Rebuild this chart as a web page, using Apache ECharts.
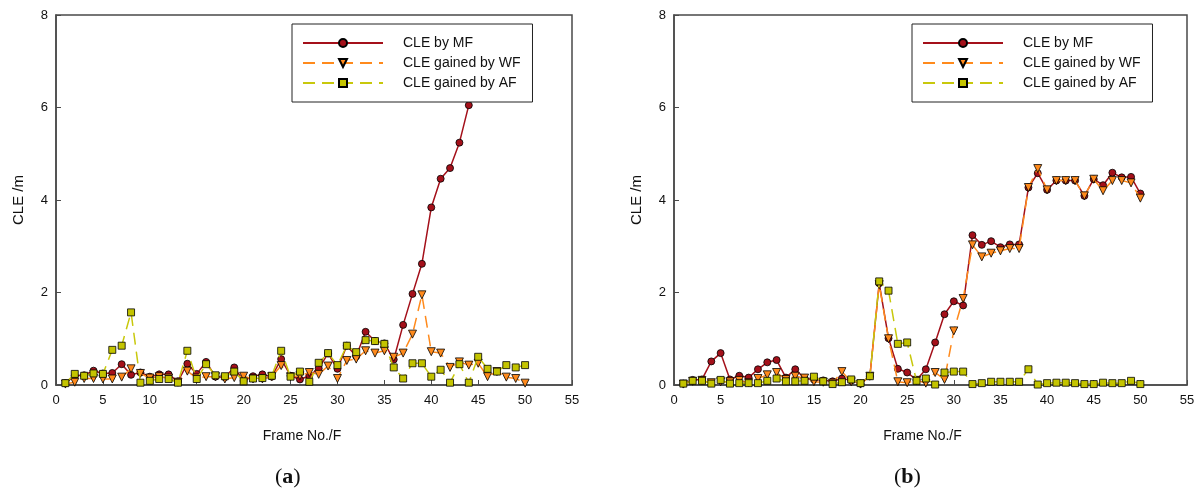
<!DOCTYPE html>
<html>
<head>
<meta charset="utf-8">
<script src="https://cdn.jsdelivr.net/npm/echarts@6/dist/echarts.min.js"></script>
<style>
  html, body { margin: 0; padding: 0; background: #fff; }
  #chart { width: 1200px; height: 497px; }
</style>
</head>
<body>
<div id="chart"></div>
<script>
// Frame numbers shared by both panels
const frames = [1,2,3,4,5,6,7,8,9,10,11,12,13,14,15,16,17,18,19,20,
                21,22,23,24,25,26,27,28,29,30,31,32,33,34,35,36,37,38,39,40,
                41,42,43,44,45,46,47,48,49,50];

// Panel (a): CLE per frame (m)
const mfA = [0.04,0.20,0.21,0.31,0.25,0.26,0.45,0.22,0.27,0.18,0.23,0.23,0.08,0.46,0.24,0.50,0.18,0.17,0.38,0.09,
             0.19,0.23,0.18,0.56,0.20,0.12,0.20,0.36,0.68,0.35,0.85,0.62,1.15,0.95,0.90,0.55,1.30,1.97,2.62,3.84,
             4.46,4.69,5.24,6.05];
const wfA = [0.02,0.06,0.14,0.14,0.13,0.13,0.17,0.35,0.25,0.15,0.18,0.15,0.06,0.30,0.15,0.18,0.18,0.13,0.16,0.19,
             0.13,0.13,0.18,0.42,0.18,0.20,0.27,0.23,0.41,0.14,0.53,0.56,0.74,0.69,0.74,0.60,0.69,1.10,1.95,0.72,
             0.69,0.38,0.50,0.43,0.47,0.18,0.29,0.17,0.14,0.04];
const afA = [0.04,0.24,0.20,0.25,0.24,0.76,0.85,1.57,0.05,0.09,0.13,0.13,0.05,0.74,0.13,0.45,0.21,0.19,0.29,0.08,
             0.14,0.15,0.20,0.74,0.18,0.29,0.07,0.48,0.69,0.43,0.85,0.71,0.97,0.95,0.89,0.38,0.14,0.47,0.47,0.18,
             0.33,0.05,0.45,0.05,0.61,0.35,0.29,0.43,0.38,0.43];

// Panel (b): CLE per frame (m)
const mfB = [0.03,0.11,0.12,0.51,0.69,0.12,0.20,0.16,0.34,0.49,0.54,0.16,0.34,0.14,0.12,0.10,0.08,0.14,0.10,0.03,
             0.19,2.20,1.01,0.35,0.27,0.11,0.34,0.92,1.53,1.81,1.72,3.24,3.03,3.11,2.98,3.04,3.04,4.27,4.58,4.22,
             4.42,4.42,4.42,4.09,4.45,4.32,4.59,4.49,4.50,4.14];
const wfB = [0.02,0.08,0.10,0.05,0.07,0.07,0.10,0.05,0.14,0.22,0.27,0.12,0.19,0.15,0.07,0.06,0.04,0.29,0.07,0.02,
             0.19,2.17,1.00,0.07,0.05,0.10,0.04,0.27,0.12,1.17,1.87,3.03,2.77,2.85,2.90,2.95,2.95,4.27,4.68,4.22,
             4.42,4.42,4.42,4.09,4.45,4.20,4.42,4.42,4.37,4.04];
const afB = [0.03,0.09,0.09,0.03,0.11,0.03,0.04,0.04,0.04,0.09,0.14,0.08,0.08,0.09,0.18,0.08,0.02,0.06,0.12,0.04,
             0.19,2.24,2.04,0.89,0.92,0.09,0.14,0.01,0.27,0.29,0.29,0.02,0.04,0.07,0.07,0.07,0.07,0.34,0.01,0.04,
             0.05,0.05,0.04,0.02,0.02,0.05,0.04,0.04,0.09,0.02];

const seriesNames = ['CLE by MF', 'CLE gained by WF', 'CLE gained by AF'];
const xTicks = { min: 0, max: 55, interval: 5 };
const yTicks = { min: 0, max: 8, interval: 2 };
const panelLabels = ['a', 'b'];

const FONT = 'Liberation Sans, Arial, sans-serif';
const SERIF = 'Liberation Serif, DejaVu Serif, serif';
const AXIS_COLOR = '#4a4a4a';

function pairs(values) {
  return values.map((v, i) => [frames[i], v]);
}

function styleFor(idx) {
  if (idx === 0) {
    return {
      symbol: 'circle', symbolSize: 7, symbolRotate: 0,
      lineStyle: { color: '#a4101a', width: 1.5, type: 'solid' },
      itemStyle: { color: '#a4101a', borderColor: '#000', borderWidth: 0.8 }
    };
  }
  if (idx === 1) {
    return {
      symbol: 'triangle', symbolSize: 8, symbolRotate: 180,
      lineStyle: { color: '#ff8a1c', width: 1.5, type: [12, 7] },
      itemStyle: { color: '#ff8a1c', borderColor: '#000', borderWidth: 0.8 }
    };
  }
  return {
    symbol: 'rect', symbolSize: 7, symbolRotate: 0,
    lineStyle: { color: '#c8c80c', width: 1.5, type: [12, 7] },
    itemStyle: { color: '#c4c400', borderColor: '#000', borderWidth: 0.8 }
  };
}

// MF drawn first, AF last (on top)
function makeSeries(gridIdx, lists) {
  return lists.map((vals, k) => Object.assign({
    name: seriesNames[k],
    type: 'line',
    xAxisIndex: gridIdx,
    yAxisIndex: gridIdx,
    data: pairs(vals),
    showSymbol: true,
    animation: false,
    z: 2 + k * 0.1
  }, styleFor(k)));
}

const grids = [
  { left: 56, top: 15, width: 516, height: 370 },
  { left: 674, top: 15, width: 513, height: 370 }
];

function makeXAxis(i, shift) {
  return {
    type: 'value', gridIndex: i, min: xTicks.min, max: xTicks.max, interval: xTicks.interval,
    name: 'Frame No./F', nameLocation: 'middle', nameGap: 44,
    nameTextStyle: { fontFamily: FONT, fontSize: 14, color: '#111', padding: [0, shift, 0, 0] },
    axisLine: { show: true, lineStyle: { color: AXIS_COLOR, width: 1.5 } },
    axisTick: { show: true, inside: true, length: 5, lineStyle: { color: AXIS_COLOR, width: 1 } },
    axisLabel: { fontFamily: FONT, fontSize: 13, color: '#111', margin: 9 },
    splitLine: { show: false }
  };
}

function makeYAxis(i) {
  return {
    type: 'value', gridIndex: i, min: yTicks.min, max: yTicks.max, interval: yTicks.interval,
    name: 'CLE /m', nameLocation: 'middle', nameGap: 30, nameRotate: 90,
    nameTextStyle: { fontFamily: FONT, fontSize: 15, color: '#111' },
    axisLine: { show: true, lineStyle: { color: AXIS_COLOR, width: 1.5 } },
    axisTick: { show: true, inside: true, length: 5, lineStyle: { color: AXIS_COLOR, width: 1 } },
    axisLabel: { fontFamily: FONT, fontSize: 13, color: '#111', margin: 8 },
    splitLine: { show: false }
  };
}

function makeLegend(left) {
  return {
    data: seriesNames,
    orient: 'vertical',
    left: left, top: 24,
    padding: [12, 12, 12, 10],
    itemWidth: 80, itemHeight: 10, itemGap: 6,
    backgroundColor: '#fff',
    borderColor: '#222', borderWidth: 1,
    selectedMode: false,
    textStyle: { fontFamily: FONT, fontSize: 14, color: '#111', lineHeight: 14, padding: [0, 0, 0, 15] },
    z: 10
  };
}

const chart = echarts.init(document.getElementById('chart'), null, { renderer: 'canvas' });

chart.setOption({
  backgroundColor: '#fff',
  animation: false,
  grid: grids.map(g => Object.assign({
    show: true, borderColor: AXIS_COLOR, borderWidth: 1.5, backgroundColor: 'transparent'
  }, g)),
  xAxis: [makeXAxis(0, 24), makeXAxis(1, 16)],
  yAxis: [makeYAxis(0), makeYAxis(1)],
  legend: [makeLegend(292), makeLegend(912)],
  series: makeSeries(0, [mfA, wfA, afA]).concat(makeSeries(1, [mfB, wfB, afB])),
  graphic: panelLabels.map((lab, i) => ({
    type: 'text',
    left: i === 0 ? 275 : 894,
    top: 466,
    style: {
      text: '{p|(}{b|' + lab + '}{p|)}',
      rich: {
        p: { fontFamily: SERIF, fontSize: 22, fill: '#111' },
        b: { fontFamily: SERIF, fontSize: 22, fontWeight: 'bold', fill: '#111' }
      }
    }
  }))
});
</script>
</body>
</html>
